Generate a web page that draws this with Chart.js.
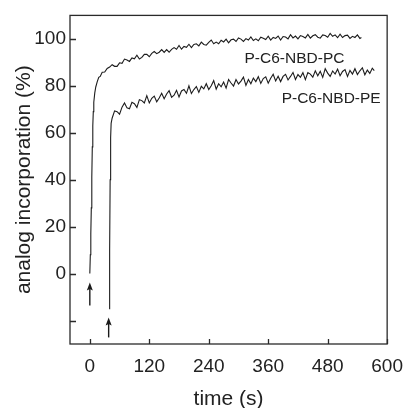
<!DOCTYPE html>
<html><head><meta charset="utf-8">
<script src="https://cdn.jsdelivr.net/npm/chart.js@4.4.0/dist/chart.umd.min.js"></script>
<style>html,body{margin:0;padding:0;background:#fff}#wrap{width:414px;height:408px}</style>
</head><body><div id="wrap"><canvas id="c" width="414" height="408"></canvas></div>
<script>
const xTicks = [0, 120, 240, 360, 480, 600];
const yTicks = [-20, 0, 20, 40, 60, 80, 100];
const yTickLabels = ['', '0', '20', '40', '60', '80', '100'];
const seriesNames = ['P-C6-NBD-PC', 'P-C6-NBD-PE'];

const pcTime = [0,1,2,3,4,5,6,7,8,10,12,15,18,21,25,30,35,
40,45,50,55,60,65,70,75,80,85,
90,95,100,105,110,115,120,125,130,135,
140,145,150,155,160,165,170,175,180,185,
190,195,200,205,210,215,220,225,230,235,
240,245,250,255,260,265,270,275,280,285,
290,295,300,305,310,315,320,325,330,335,
340,345,350,355,360,365,370,375,380,385,
390,395,400,405,410,415,420,425,430,435,
440,445,450,455,460,465,470,475,480,485,
490,495,500,505,510,515,520,525,530,535,
540,545,548];
const pcValue = [0,8,17,28,41,54,63,69,73,77,79.5,81.8,83.6,84.0,85.8,85.9,87.4,
88.0,89.0,88.3,88.3,89.8,89.6,91.4,91.0,90.4,91.9,
91.5,93.0,91.4,92.1,93.4,93.4,92.4,93.8,94.6,93.7,
94.3,95.4,94.2,95.4,94.3,95.5,96.3,95.6,97.2,95.6,
96.8,96.4,97.7,96.3,97.6,97.9,97.0,98.6,97.6,97.3,
98.5,99.5,97.9,98.6,97.9,99.4,98.7,99.9,98.3,99.6,
99.9,98.9,100.4,99.9,98.9,100.1,99.5,100.8,99.3,100.0,
99.2,100.7,100.3,99.7,101.1,99.5,100.6,100.2,101.2,99.5,
101.0,100.8,100.0,101.8,100.4,101.2,100.0,101.4,101.0,100.4,
101.9,100.3,101.3,101.8,100.7,100.3,101.7,101.4,100.7,102.3,
101.1,101.7,100.5,102.0,100.6,101.4,101.6,100.2,101.1,100.6,
101.7,100.2,100.6];

const peTime = [39,40,41,42,43,
45,50,55,60,65,70,75,80,85,90,
95,100,105,110,115,120,125,130,135,140,
145,150,155,160,165,170,175,180,185,190,
195,200,205,210,215,220,225,230,235,240,
245,250,255,260,265,270,275,280,285,290,
295,300,305,310,315,320,325,330,335,340,
345,350,355,360,365,370,375,380,385,390,
395,400,405,410,415,420,425,430,435,440,
445,450,455,460,465,470,475,480,485,490,
495,500,505,510,515,520,525,530,535,540,
545,550,555,560,565,570,574];
const peValue = [-15,10,40,58,64,
66.2,69.3,69.0,67.9,70.9,72.7,70.6,70.2,73.0,72.4,
70.8,74.1,73.7,72.7,75.8,72.7,74.7,75.6,73.2,74.8,
76.8,74.5,76.5,77.9,75.1,76.0,78.1,75.2,77.8,78.4,
76.8,80.0,76.7,78.4,79.7,77.2,79.8,78.7,80.9,78.4,
80.0,82.2,78.6,80.9,79.6,81.6,79.0,82.7,81.2,79.9,
82.7,80.8,82.0,83.7,80.2,82.7,80.9,83.3,81.8,83.9,
81.0,83.1,83.8,81.1,83.2,84.9,82.1,84.1,81.8,84.0,
84.9,82.5,84.0,85.7,82.7,84.8,83.6,85.6,82.6,85.6,
85.0,83.7,86.4,84.3,86.2,83.6,87.3,85.4,84.0,86.3,
85.0,87.1,84.3,86.1,86.9,84.0,86.6,85.0,87.3,84.8,
86.4,87.7,84.7,86.7,85.3,87.5,86.5];

// label anchor points (data units) and injection arrows [time, from, to]
const labelAt = [[413, 91.5], [487, 74.5]];
const arrows = [[0, -13.6, -3.8], [38, -27.2, -18.7]];

const FONT = '"Liberation Sans", Arial, Helvetica, sans-serif';
const INK = '#222';

const deco = {
  id: 'deco',
  afterDatasetsDraw(chart) {
    const {ctx, chartArea: a, scales: {x, y}} = chart;
    ctx.save();
    ctx.strokeStyle = '#2a2a2a';
    ctx.lineWidth = 1.3;
    ctx.strokeRect(a.left, a.top, a.right - a.left, a.bottom - a.top);
    ctx.beginPath();
    xTicks.forEach(v => { const px = Math.round(x.getPixelForValue(v)) + 0.5; ctx.moveTo(px, a.bottom); ctx.lineTo(px, a.bottom - 5); });
    yTicks.forEach(v => { const py = Math.round(y.getPixelForValue(v)) + 0.5; ctx.moveTo(a.left, py); ctx.lineTo(a.left + 6, py); });
    ctx.stroke();
    // arrows
    ctx.fillStyle = '#1a1a1a';
    ctx.strokeStyle = '#1a1a1a';
    ctx.lineWidth = 1.4;
    arrows.forEach(([t, v0, v1]) => {
      const px = x.getPixelForValue(t);
      const yb = y.getPixelForValue(v0), yt = y.getPixelForValue(v1);
      ctx.beginPath(); ctx.moveTo(px, yb); ctx.lineTo(px, yt + 6); ctx.stroke();
      ctx.beginPath(); ctx.moveTo(px, yt); ctx.lineTo(px - 3, yt + 8); ctx.lineTo(px, yt + 6.5); ctx.lineTo(px + 3, yt + 8); ctx.closePath(); ctx.fill();
    });
    // series labels
    ctx.font = '15.5px ' + FONT;
    ctx.fillStyle = INK;
    ctx.textAlign = 'center';
    ctx.textBaseline = 'middle';
    labelAt.forEach(([t, v], i) => ctx.fillText(seriesNames[i], x.getPixelForValue(t), y.getPixelForValue(v)));
    ctx.restore();
  }
};

new Chart(document.getElementById('c'), {
  type: 'line',
  data: {
    datasets: [
      {label: seriesNames[0], data: pcTime.map((t, i) => ({x: t, y: pcValue[i]}))},
      {label: seriesNames[1], data: peTime.map((t, i) => ({x: t, y: peValue[i]}))}
    ]
  },
  options: {
    responsive: false,
    animation: false,
    devicePixelRatio: 1,
    layout: {padding: {top: 14, right: 17, left: 0, bottom: 0}},
    elements: {
      line: {borderColor: '#1c1c1c', borderWidth: 1.1, tension: 0},
      point: {radius: 0}
    },
    plugins: {legend: {display: false}, tooltip: {enabled: false}},
    scales: {
      x: {
        type: 'linear', min: -40, max: 600,
        afterBuildTicks: s => { s.ticks = xTicks.map(v => ({value: v})); },
        afterFit: s => { s.height = 64; },
        grid: {display: false, drawTicks: false, tickLength: 0},
        border: {display: false},
        ticks: {color: INK, font: {family: FONT, size: 19}, padding: 11, maxRotation: 0, autoSkip: false,
                callback: v => String(v)},
        title: {display: true, text: 'time (s)', color: INK, font: {family: FONT, size: 21, lineHeight: 0.86}, padding: {top: 0, bottom: 0}}
      },
      y: {
        type: 'linear', min: -30, max: 110,
        afterBuildTicks: s => { s.ticks = yTicks.map(v => ({value: v})); },
        afterFit: s => { s.width = 70; },
        grid: {display: false, drawTicks: false, tickLength: 0},
        border: {display: false},
        ticks: {color: INK, font: {family: FONT, size: 19}, padding: 4, autoSkip: false,
                callback: v => yTickLabels[yTicks.indexOf(v)] ?? ''},
        title: {display: true, text: 'analog incorporation (%)', color: INK, font: {family: FONT, size: 21, lineHeight: 1.2}, padding: {top: 12, bottom: 0}}
      }
    }
  },
  plugins: [deco]
});
</script></body></html>
